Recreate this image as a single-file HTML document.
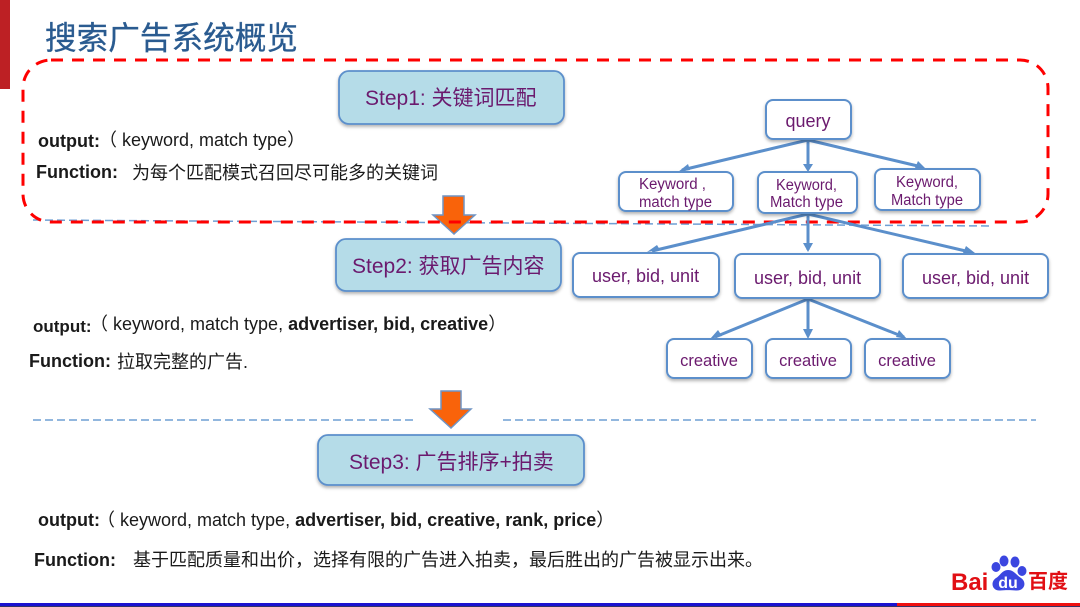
<!DOCTYPE html>
<html lang="zh">
<head>
<meta charset="utf-8">
<title>搜索广告系统概览</title>
<style>
html,body{margin:0;padding:0;background:#fff;width:1080px;height:607px;overflow:hidden}
svg{display:block}
text{font-family:"Liberation Sans","Noto Sans CJK SC",sans-serif}
.p{fill:#6b1a6e}
.k{fill:#1a1a1a;font-size:18px}
.b{font-weight:bold}
.c{font-family:"Liberation Sans","Noto Sans CJK TC",sans-serif}
.box{fill:#fff;stroke:#5b8fcb;stroke-width:2;filter:url(#sh)}
.step{fill:#b5dce8;stroke:#5b8fcb;stroke-width:1.8;filter:url(#sh)}
.con{stroke:#5b8fcb;stroke-width:3;fill:none}
.hd{fill:#5b8fcb}
.ar{fill:#f9630a;stroke:#6f94c4;stroke-width:1.5}
</style>
</head>
<body>
<svg width="1080" height="607" viewBox="0 0 1080 607" xmlns="http://www.w3.org/2000/svg">
<defs>
<filter id="sh" x="-10%" y="-15%" width="120%" height="140%">
<feDropShadow dx="0" dy="2" stdDeviation="1.5" flood-color="#000" flood-opacity=".3"/>
</filter>
</defs>

<rect x="0" y="0" width="10" height="89" fill="#bd2024"/>
<text x="45" y="49" font-size="32" fill="#2a5b90" stroke="#2a5b90" stroke-width=".3" textLength="253" lengthAdjust="spacingAndGlyphs">搜索广告系统概览</text>

<rect x="0" y="603" width="897" height="3" fill="#1a12d0"/>
<rect x="897" y="603" width="183" height="3" fill="#ee1010"/>
<rect x="0" y="606" width="1080" height="1" fill="#333366"/>

<line x1="33" y1="220" x2="993" y2="226" stroke="#6f9fd4" stroke-width="1.5" stroke-dasharray="8 4"/>
<line x1="33" y1="420" x2="415" y2="420" stroke="#6f9fd4" stroke-width="1.5" stroke-dasharray="8 4"/>
<line x1="503" y1="420" x2="1036" y2="420" stroke="#6f9fd4" stroke-width="1.5" stroke-dasharray="8 4"/>

<polygon class="ar" points="443,196 464,196 464,215 475,215 454,234 433,215 443,215"/>
<polygon class="ar" points="441,391 461,391 461,409 471,409 451,428 430,409 441,409"/>

<rect x="23" y="60" width="1025" height="162" rx="28" ry="28" fill="none" stroke="#fe0000" stroke-width="3" stroke-dasharray="12 9"/>

<rect class="step" x="339" y="71" width="225" height="53" rx="10"/>
<text class="p" x="365" y="105" font-size="21">Step1: 关键词匹配</text>
<rect class="step" x="336" y="239" width="225" height="52" rx="10"/>
<text class="p" x="352" y="273" font-size="21">Step2: 获取广告内容</text>
<rect class="step" x="318" y="435" width="266" height="50" rx="10"/>
<text class="p" x="349" y="469" font-size="21">Step3: 广告排序+拍卖</text>

<text class="k b" x="38" y="147">output:</text>
<text class="k" x="99" y="146">（ keyword, match type）</text>
<text class="k b" x="36" y="178">Function:</text>
<text class="k" x="132" y="179">为每个匹配模式召回尽可能多的关键词</text>

<text class="k b" x="33" y="332" style="font-size:17px">output:</text>
<text class="k" x="90" y="330">（ keyword, match type, <tspan class="b">advertiser, bid, creative</tspan>）</text>
<text class="k b" x="29" y="367">Function:</text>
<text class="k" x="117" y="368">拉取完整的广告.</text>

<text class="k b" x="38" y="526">output:</text>
<text class="k" x="97" y="526">（ keyword, match type, <tspan class="b">advertiser, bid, creative, rank, price</tspan>）</text>
<text class="k b" x="34" y="566">Function:</text>
<text class="k" x="133" y="566">基于匹配质量和出价<tspan class="c">，</tspan>选择有限的广告进入拍卖<tspan class="c">，</tspan>最后胜出的广告被显示出来。</text>

<g class="con">
<path d="M808 140 L682 170"/>
<path d="M808 140 V167"/>
<path d="M808 140 L922 167"/>
<path d="M808 214 L652 251"/>
<path d="M808 214 V250"/>
<path d="M808 214 L970 252"/>
<path d="M808 299 L715 337"/>
<path d="M808 299 V336"/>
<path d="M808 299 L904 337"/>
</g>
<g class="hd">
<polygon points="678,172 688,164 690,170"/>
<polygon points="803,164 813,164 808,172"/>
<polygon points="926,169 915,168 918,161"/>
<polygon points="647,252 657,245 660,250"/>
<polygon points="803,243 813,243 808,252"/>
<polygon points="975,253 963,253 966,246"/>
<polygon points="710,339 718,330 722,336"/>
<polygon points="803,329 813,329 808,339"/>
<polygon points="907,339 896,337 899,330"/>
</g>

<rect class="box" x="766" y="100" width="85" height="39" rx="7"/>
<text class="p" x="808" y="127" font-size="18" text-anchor="middle">query</text>

<rect class="box" x="619" y="172" width="114" height="39" rx="7"/>
<text class="p" x="639" y="189" font-size="15.500" textLength="67" lengthAdjust="spacingAndGlyphs">Keyword ,</text>
<text class="p" x="639" y="207" font-size="15.500" textLength="73" lengthAdjust="spacingAndGlyphs">match type</text>
<rect class="box" x="758" y="172" width="99" height="41" rx="7"/>
<text class="p" x="776" y="190" font-size="15.500" textLength="61" lengthAdjust="spacingAndGlyphs">Keyword,</text>
<text class="p" x="770" y="207" font-size="15.500" textLength="73" lengthAdjust="spacingAndGlyphs">Match type</text>
<rect class="box" x="875" y="169" width="105" height="41" rx="7"/>
<text class="p" x="896" y="187" font-size="15.500" textLength="62" lengthAdjust="spacingAndGlyphs">Keyword,</text>
<text class="p" x="891" y="205" font-size="15.500" textLength="72" lengthAdjust="spacingAndGlyphs">Match type</text>

<rect class="box" x="573" y="253" width="146" height="44" rx="7"/>
<text class="p" x="592" y="282" font-size="18">user, bid, unit</text>
<rect class="box" x="735" y="254" width="145" height="44" rx="7"/>
<text class="p" x="754" y="284" font-size="18">user, bid, unit</text>
<rect class="box" x="903" y="254" width="145" height="44" rx="7"/>
<text class="p" x="922" y="284" font-size="18">user, bid, unit</text>

<rect class="box" x="667" y="339" width="85" height="39" rx="7"/>
<text class="p" x="709" y="366" font-size="16.500" text-anchor="middle">creative</text>
<rect class="box" x="766" y="339" width="85" height="39" rx="7"/>
<text class="p" x="808" y="366" font-size="16.500" text-anchor="middle">creative</text>
<rect class="box" x="865" y="339" width="85" height="39" rx="7"/>
<text class="p" x="907" y="366" font-size="16.500" text-anchor="middle">creative</text>

<text x="951" y="590" font-size="24" font-weight="bold" fill="#e10f14">Bai</text>
<g fill="#3b46e0">
<ellipse cx="996" cy="567" rx="4.500" ry="5"/>
<ellipse cx="1004" cy="561" rx="4.500" ry="5.500"/>
<ellipse cx="1015" cy="562" rx="4.500" ry="5.500"/>
<ellipse cx="1022" cy="571" rx="4.500" ry="5"/>
<path d="M1008 570 C1002 570 1000 576 996 578 C990 582 992 591 1000 590.500 C1005 590 1011 590 1016 590.500 C1025 591 1027 582 1021 578 C1016 575 1014 570 1008 570Z"/>
</g>
<text x="1008" y="588" font-size="16" font-weight="bold" fill="#fff" text-anchor="middle">du</text>
<text x="1028" y="588" font-size="20" font-weight="bold" fill="#e10f14">百度</text>
</svg>
</body>
</html>
